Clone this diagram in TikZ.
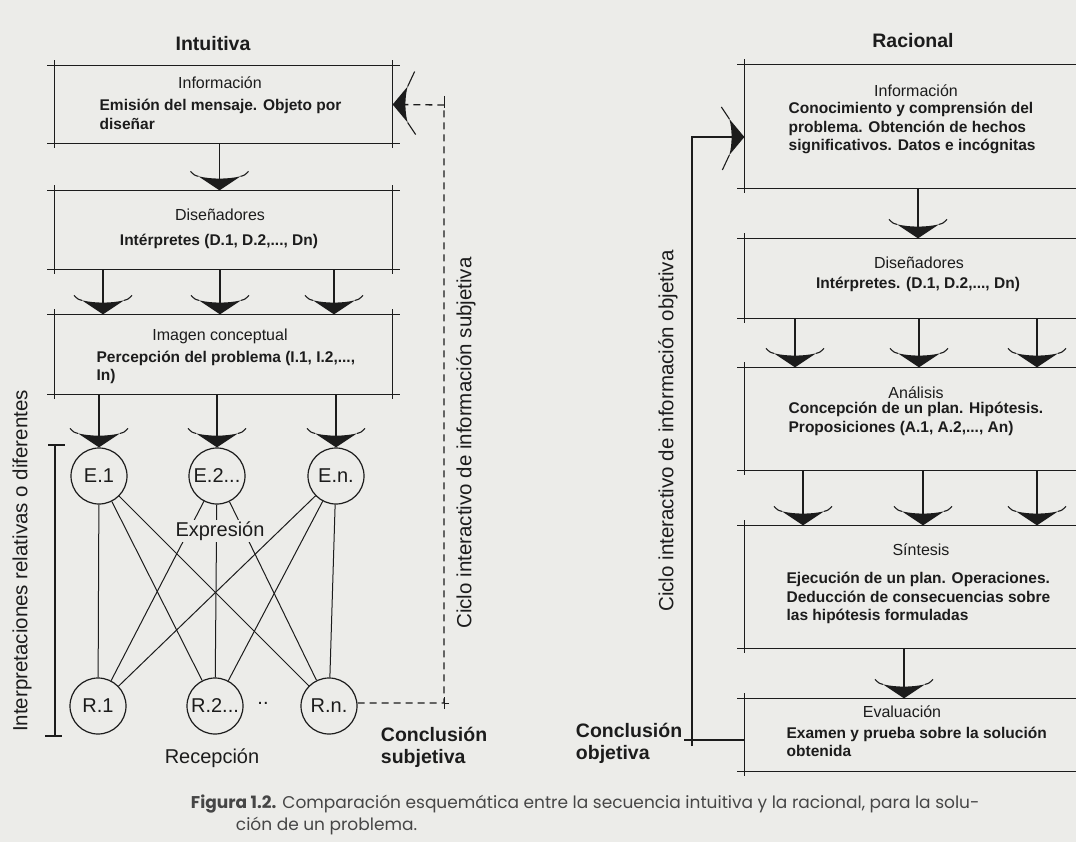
\documentclass[tikz,border=0pt]{standalone}
\usepackage{fontspec}
\setmainfont{Liberation Sans}
\newfontfamily\leyenda{Poppins}
\usetikzlibrary{positioning}

\definecolor{papel}{RGB}{236,236,233}
\definecolor{tinta}{RGB}{28,28,28}
\definecolor{pie}{RGB}{70,70,70}

% contorno de caja con trazos que sobresalen
\newcommand{\marco}[1]{%
  \draw ([xshift=-7pt]#1.north west) -- ([xshift=7pt]#1.north east);
  \draw ([xshift=-7pt]#1.south west) -- ([xshift=7pt]#1.south east);
  \draw ([yshift=5pt]#1.north west) -- ([yshift=-4pt]#1.south west);
  \draw ([yshift=5pt]#1.north east) -- ([yshift=-4pt]#1.south east);}

\tikzset{
  cabeza/.pic={
    \fill (0,0) -- (-21,-14) .. controls (-8,-11) and (8,-11) .. (21,-14) -- cycle;
    \draw[solid, line width=1.1pt] (-21,-14) .. controls (-25,-15) .. (-29,-19)
                                   (21,-14) .. controls (25,-15) .. (29,-19);
  },
  cabezaancha/.pic={
    \fill (0,0) -- (-18,-15) .. controls (-7,-12) and (7,-12) .. (18,-15) -- cycle;
    \draw[solid, line width=1.1pt] (-18,-15) -- (-33,-22)
                                   (18,-15) -- (30,-23);
  },
  caja/.style={inner sep=0pt, minimum width=#1},
  titulo/.style={font=\bfseries\fontsize{19.5}{22}\selectfont},
  rotulo/.style={font=\fontsize{16}{19}\selectfont},
  cuerpo/.style={font=\bfseries\fontsize{15.5}{18.5}\selectfont, align=left, inner sep=0pt},
  lateral/.style={font=\fontsize{20.5}{24}\selectfont, rotate=90},
  circulo/.style={circle, draw, line width=1.2pt, minimum size=56pt, inner sep=0pt,
                  font=\fontsize{20}{24}\selectfont},
}

\begin{document}
\begin{tikzpicture}[x=1pt, y=-1pt, line width=1.3pt, color=tinta]
  \clip (0,0) rectangle (1076,842);
  \fill[papel] (0,0) rectangle (1076,842);

  \node[titulo] (intuitiva) at (213,44) {Intuitiva};
  \node[titulo] (racional) at (913,41) {Racional};

  % secuencia intuitiva
  \node[caja=337pt, minimum height=77pt] (info1) at (223.5,104.5) {};
  \node[caja=337pt, minimum height=78pt] (dis1) at (223.5,230) {};
  \node[caja=337pt, minimum height=79pt] (ima1) at (223.5,354.5) {};
  \marco{info1}
  \marco{dis1}
  \marco{ima1}

  \node[rotulo] (tinfo1) at (220,83) {Información};
  \node[cuerpo, anchor=west] (binfo1) at (99,114.5) {Emisión del mensaje. Objeto por\\diseñar};
  \node[rotulo] (tdis1) at (220,215) {Diseñadores};
  \node[cuerpo] (bdis1) at (219,241) {Intérpretes (D.1, D.2,..., Dn)};
  \node[rotulo] (tima1) at (220,336) {Imagen conceptual};
  \node[cuerpo, anchor=west] (bima1) at (96,367.5) {Percepción del problema (I.1, I.2,...,\\In)};

  \draw ([xshift=-4pt]info1.south) -- ([xshift=-4pt]dis1.north) pic {cabeza};
  \foreach \dx in {-120.5,-3.5,110.5}
    \draw ([xshift=\dx pt]dis1.south) -- ([xshift=\dx pt]ima1.north) pic {cabeza};

  \node[circulo] (e1) at (99,476) {E.1};
  \node[circulo] (e2) at (217,476) {E.2...};
  \node[circulo] (en) at (336,476) {E.n.};
  \node[circulo] (r1) at (98,706) {R.1};
  \node[circulo] (r2) at (215,706) {R.2...};
  \node[circulo] (rn) at (329,706) {R.n.};

  \foreach \c in {e1,e2,en}
    \draw (ima1.south -| \c) -- (\c.north) pic {cabeza};

  \foreach \a in {e1,e2,en}
    \foreach \b in {r1,r2,rn}
      \draw[line width=1pt] (\a) -- (\b);

  \node[fill=papel, inner sep=2pt, font=\fontsize{20}{24}\selectfont] (expr) at (220,531) {Expresión};
  \node[font=\fontsize{20}{24}\selectfont] (recep) at (212,758) {Recepción};
  \node[font=\fontsize{20}{24}\selectfont] (puntos) at (263,703) {..};

  % llave de interpretaciones
  \draw (55,445) -- (55,736);
  \draw (48,445) -- (65,445);
  \draw (45,736) -- (62,736);
  \node[lateral] (interp) at (22,561) {Interpretaciones relativas o diferentes};

  % ciclo subjetivo
  \coordinate (sa) at (444,105);
  \coordinate (sb) at (444,703);
  \draw[dashed, dash pattern=on 7pt off 5pt] (rn.east |- sb) -- (sb) -- (sa) -- (info1.east) pic[rotate=-90] {cabezaancha};
  \draw[line width=1pt] ([yshift=9pt]sa) -- ([yshift=-3pt]sa);
  \draw[line width=1pt] ([yshift=6pt]sb) -- ([yshift=-6pt]sb) ([xshift=5pt]sb) -- (sb);
  \node[lateral] (ciclo1) at (466,443) {Ciclo interactivo de información subjetiva};
  \node[titulo, align=left, anchor=west] (concl1) at (377,747) {Conclusión\\subjetiva};

  % secuencia racional
  \node[caja=355pt, minimum height=123pt] (info2) at (922.5,126.5) {};
  \node[caja=355pt, minimum height=79pt] (dis2) at (922.5,278.5) {};
  \node[caja=355pt, minimum height=102pt] (ana) at (922.5,419) {};
  \node[caja=355pt, minimum height=122pt] (sin) at (922.5,587) {};
  \node[caja=355pt, minimum height=72pt] (ev) at (922.5,735) {};
  \marco{info2}
  \marco{dis2}
  \marco{ana}
  \marco{sin}
  \marco{ev}

  \node[rotulo] (tinfo2) at (916,91) {Información};
  \node[cuerpo, anchor=west] (binfo2) at (788,128) {Conocimiento y comprensión del\\problema. Obtención de hechos\\significativos. Datos e incógnitas};
  \node[rotulo] (tdis2) at (919,263) {Diseñadores};
  \node[cuerpo] (bdis2) at (918,284) {Intérpretes. (D.1, D.2,..., Dn)};
  \node[rotulo] (tana) at (916,393) {Análisis};
  \node[cuerpo, anchor=west] (bana) at (788,419) {Concepción de un plan. Hipótesis.\\Proposiciones (A.1, A.2,..., An)};
  \node[rotulo] (tsin) at (921,550) {Síntesis};
  \node[cuerpo, anchor=west] (bsin) at (786,598) {Ejecución de un plan. Operaciones.\\Deducción de consecuencias sobre\\las hipótesis formuladas};
  \node[rotulo] (tev) at (902,712) {Evaluación};
  \node[cuerpo, anchor=west] (bev) at (786,742) {Examen y prueba sobre la solución\\obtenida};

  \draw ([xshift=-4.5pt]info2.south) -- ([xshift=-4.5pt]dis2.north) pic {cabeza};
  \foreach \dx in {-127.5,-3.5,114.5}
    \draw ([xshift=\dx pt]dis2.south) -- ([xshift=\dx pt]ana.north) pic {cabeza};
  \foreach \dx in {-119.5,0.5,114.5}
    \draw ([xshift=\dx pt]ana.south) -- ([xshift=\dx pt]sin.north) pic {cabeza};
  \draw ([xshift=-18.5pt]sin.south) -- ([xshift=-18.5pt]ev.north) pic {cabeza};

  % ciclo objetivo
  \coordinate (la) at (692,137);
  \coordinate (lb) at (692,746);
  \coordinate (lc) at (684,740);
  \draw (lb) -- (la) -- (la -| info2.west) pic[rotate=90] {cabezaancha};
  \draw (lc) -- (lc -| ev.west);
  \node[lateral] (ciclo2) at (668,431) {Ciclo interactivo de información objetiva};
  \node[titulo, align=left, anchor=west] (concl2) at (572,743) {Conclusión\\objetiva};

  % pie de figura
  \node[anchor=west, color=pie, font=\leyenda\fontsize{17}{20}\selectfont] (pie1) at (187,804)
    {\textbf{Figura 1.2.} Comparación esquemática entre la secuencia intuitiva y la racional, para la solu-};
  \node[anchor=west, color=pie, font=\leyenda\fontsize{17}{20}\selectfont] (pie2) at (232,826)
    {ción de un problema.};
\end{tikzpicture}
\end{document}
